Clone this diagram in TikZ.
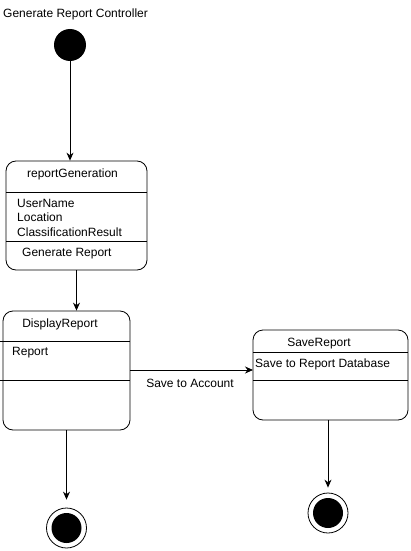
\documentclass[tikz,border=0pt]{standalone}
\usepackage{fontspec}
\setmainfont{Liberation Sans}
\usetikzlibrary{arrows.meta}
\begin{document}
\begin{tikzpicture}[x=1pt,y=-1pt,
  statebox/.style={draw, rounded corners=10pt, line width=0.8pt, inner sep=0pt},
  lbl/.style={font=\fontsize{12}{14}\selectfont, inner sep=0pt},
  arr/.style={-{Stealth[length=8pt,width=7pt]}, line width=0.8pt},
  divider/.style={line width=0.8pt},
  initdot/.style={circle, fill=black, minimum size=32pt, inner sep=0pt},
  finring/.style={circle, draw, line width=0.8pt, minimum size=40pt, inner sep=0pt},
  findot/.style={circle, fill=black, minimum size=30pt, inner sep=0pt}]
\useasboundingbox (0,0) rectangle (410,551);

% title
\node[lbl, anchor=west] (title) at (3,14) {Generate Report Controller};
\node[initdot] (init) at (70,45) {};

% reportGeneration
\node[statebox, minimum width=141pt, minimum height=109pt] (rg) at (76.5,215.5) {};
\coordinate (rgd1l) at (6,192); \coordinate (rgd1r) at (147,192);
\coordinate (rgd2l) at (6,241); \coordinate (rgd2r) at (147,241);
\draw[divider] (rgd1l) -- (rgd1r);
\draw[divider] (rgd2l) -- (rgd2r);
\node[lbl] (rgtitle) at (72.5,174) {reportGeneration};
\node[lbl, anchor=west] (rgu) at (17,203) {UserName};
\node[lbl, anchor=west] (rgl) at (17,217.5) {Location};
\node[lbl, anchor=west] (rgc) at (17,232) {ClassificationResult};
\node[lbl, anchor=west] (rgg) at (22,254) {Generate Report};

% DisplayReport
\node[statebox, minimum width=127pt, minimum height=119pt] (dr) at (66.5,370.5) {};
\coordinate (drd1l) at (0,341); \coordinate (drd1r) at (130,341);
\coordinate (drd2l) at (0,380); \coordinate (drd2r) at (130,380);
\draw[divider] (drd1l) -- (drd1r);
\draw[divider] (drd2l) -- (drd2r);
\node[lbl] (drtitle) at (60,324) {DisplayReport};
\node[lbl, anchor=west] (drr) at (12,353) {Report};

% SaveReport
\node[statebox, minimum width=155pt, minimum height=90pt] (sr) at (330.5,375) {};
\coordinate (srd1l) at (253,352); \coordinate (srd1r) at (408,352);
\coordinate (srd2l) at (253,380); \coordinate (srd2r) at (408,380);
\draw[divider] (srd1l) -- (srd1r);
\draw[divider] (srd2l) -- (srd2r);
\node[lbl] (srtitle) at (319,344) {SaveReport};
\node[lbl, anchor=west] (srs) at (255,364) {Save to Report Database};

% final states
\node[finring] (fin1) at (66.5,528) {};
\node[findot] (fin1d) at (fin1) {};
\node[finring] (fin2) at (328,513) {};
\node[findot] (fin2d) at (fin2) {};

% connectors
\draw[arr] (init) -- (init |- rg.north);
\draw[arr] (rg.south) -- (rg.south |- dr.north);
\coordinate (sa1) at (130,370); \coordinate (sa2) at (253,370);
\draw[arr] (sa1) -- (sa2);
\node[lbl] (salbl) at (190,383) {Save to Account};
\draw[arr, shorten >=8pt] (dr.south) -- (fin1.north);
\draw[arr, shorten >=5pt] (sr.south -| fin2) -- (fin2.north);
\end{tikzpicture}
\end{document}
